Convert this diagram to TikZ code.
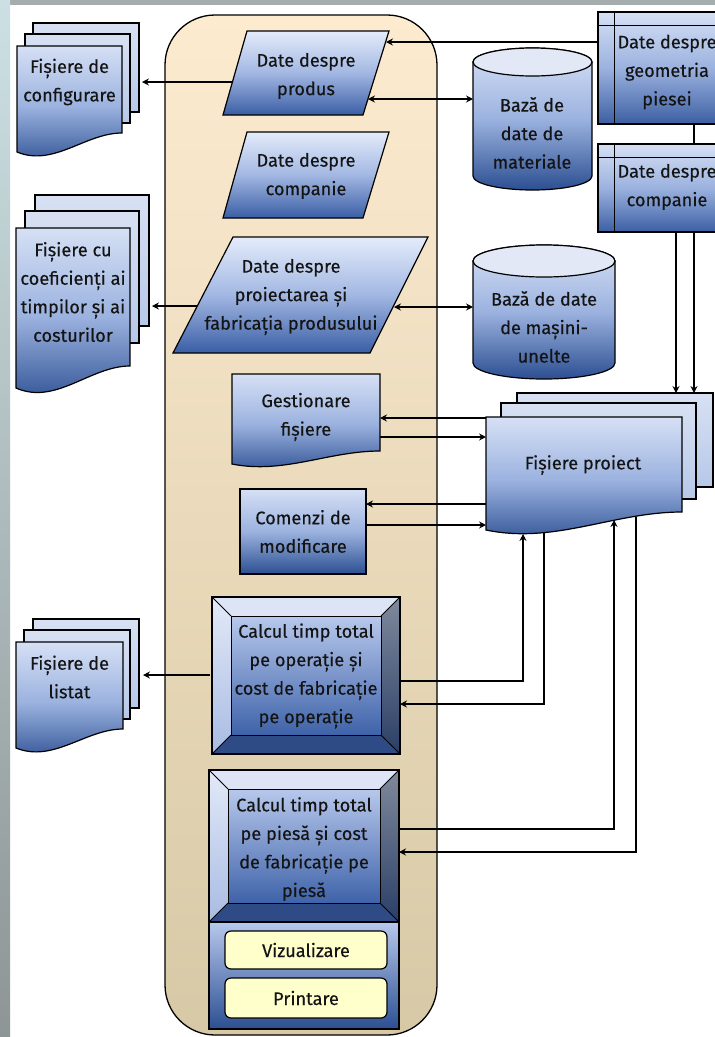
\documentclass[tikz,border=0pt]{standalone}
\usepackage{fontspec}
\setmainfont{Fira Sans}[FakeBold=0.35]
\usetikzlibrary{calc,arrows.meta}
\definecolor{txtc}{HTML}{141414}
\definecolor{dtop}{HTML}{D6E0F5}
\definecolor{dmid}{HTML}{9BB2DF}
\definecolor{dbot}{HTML}{2C4F92}
\definecolor{rbot}{HTML}{3C5FA3}
\definecolor{shtop}{HTML}{D8E1F3}
\definecolor{shbot}{HTML}{B6C8E8}
\definecolor{ptop}{HTML}{E4ECFB}
\definecolor{pmid}{HTML}{A2B7E2}
\definecolor{pbot}{HTML}{3A5EA5}
\definecolor{conttop}{HTML}{FDEBD0}
\definecolor{contbot}{HTML}{D7C9A6}
\definecolor{btn}{HTML}{FFFFCC}
\definecolor{bvl}{HTML}{E3EAF8}
\definecolor{bvlb}{HTML}{A8BBE3}
\definecolor{bvr}{HTML}{808A9C}
\definecolor{bvrb}{HTML}{2A3E66}
\definecolor{bvbot}{HTML}{2E4B85}
\definecolor{bvtop}{HTML}{DCE4F6}
\definecolor{intop}{HTML}{B7C8EC}
\definecolor{inbot}{HTML}{3F63A9}
\definecolor{stripg}{HTML}{A4ACAC}
\definecolor{stript}{HTML}{CCE0E3}
\definecolor{stripb}{HTML}{8E9595}
\definecolor{cyltop}{HTML}{E2E8F6}
\pgfdeclarelayer{bg}
\pgfdeclarelayer{conn}
\pgfsetlayers{bg,conn,main}
\newcommand{\lblfont}{\fontsize{18.2}{28.5}\selectfont}
% document shape: style, x0, y0, x1, yLeftBottom, yRightBottom
\newcommand{\docshape}[6]{%
  \path[#1] (#2,#3) -- (#4,#3) -- (#4,#6)
    .. controls ({#4-0.35*(#4-#2)},#6) and ({#2+0.35*(#4-#2)},{#5+0.8*(#5-#6)}) .. (#2,#5) -- cycle;}
% bevel box: x0,y0,x1,y1,b
\newcommand{\bevelbox}[5]{%
  \fill[bvtop] (#1,#2) -- (#3,#2) -- ({#3-#5},{#2+#5}) -- ({#1+#5},{#2+#5}) -- cycle;
  \path[top color=bvl,bottom color=bvlb] (#1,#2) -- ({#1+#5},{#2+#5}) -- ({#1+#5},{#4-#5}) -- (#1,#4) -- cycle;
  \path[top color=bvr,bottom color=bvrb] (#3,#2) -- (#3,#4) -- ({#3-#5},{#4-#5}) -- ({#3-#5},{#2+#5}) -- cycle;
  \fill[bvbot] (#1,#4) -- (#3,#4) -- ({#3-#5},{#4-#5}) -- ({#1+#5},{#4-#5}) -- cycle;
  \path[top color=intop,bottom color=inbot,draw=black,line width=0.9pt] ({#1+#5},{#2+#5}) rectangle ({#3-#5},{#4-#5});
  \draw[line width=0.9pt] (#1,#2) -- ({#1+#5},{#2+#5}) (#3,#2) -- ({#3-#5},{#2+#5}) (#1,#4) -- ({#1+#5},{#4-#5}) (#3,#4) -- ({#3-#5},{#4-#5});
  \draw[line width=1.2pt] (#1,#2) rectangle (#3,#4);}
% cylinder: x0,x1,ytopcentre,ybottomcentre,ry
\newcommand{\cylshape}[5]{%
  \path[draw=black,line width=1.2pt,top color=dtop,bottom color=dbot,middle color=dmid]
    (#1,#3) -- (#1,#4) arc[start angle=180,end angle=0,x radius={(#2-#1)/2},y radius=#5]
    -- (#2,#3) arc[start angle=0,end angle=-180,x radius={(#2-#1)/2},y radius=#5] -- cycle;
  \path[draw=black,line width=1.2pt,fill=cyltop] ({(#1+#2)/2},#3) ellipse[x radius={(#2-#1)/2},y radius=#5];}
\tikzset{
  lbl/.style={inner sep=0pt,outer sep=0pt,align=center,font=\lblfont,text=txtc},
  outl/.style={draw=black,line width=1.2pt},
  docfill/.style={outl,top color=dtop,bottom color=dbot,middle color=dmid},
  sheet/.style={outl,top color=shtop,bottom color=shbot},
  para/.style={outl,top color=ptop,bottom color=pbot,middle color=pmid},
  storebox/.style={outl,top color=dtop,bottom color=rbot,middle color=dmid},
  arr/.style={draw=black,line width=1.1pt,-{Stealth[length=7pt,width=7pt,inset=2.5pt]}},
  darr/.style={draw=black,line width=1.1pt,{Stealth[length=7pt,width=7pt,inset=2.5pt]}-{Stealth[length=7pt,width=7pt,inset=2.5pt]}},
  btnbox/.style={lbl,draw=black,line width=1.2pt,fill=btn,rounded corners=6pt},
}
\begin{document}
\begin{tikzpicture}[x=1pt,y=-1pt]
\useasboundingbox (0,0) rectangle (715,1037);
\clip (0,0) rectangle (715,1037);
\begin{pgfonlayer}{bg}
% background
\fill[white] (0,0) rectangle (715,1037);
\fill[stripg] (0,0) rectangle (715,5);
\path[top color=stript,bottom color=stripb] (0,0) rectangle (10,1037);
% container
\node[draw=black,line width=1.3pt,rounded corners=50pt,top color=conttop,bottom color=contbot,
  minimum width=272pt,minimum height=1020pt,inner sep=0pt] (cont) at (301,525) {};
\end{pgfonlayer}

% left stacks
\path[sheet] (33,23) rectangle (139,112);
\path[sheet] (25,34) rectangle (130,123);
\docshape{docfill}{17}{46}{122}{152}{133}
\path[sheet] (35,195) rectangle (149,326);
\path[sheet] (25,211) rectangle (139,343);
\docshape{docfill}{16}{228}{130}{388}{366}
\path[sheet] (33,619) rectangle (139,708);
\path[sheet] (24,630) rectangle (130,719);
\docshape{docfill}{16}{642}{123}{748}{729}

% parallelograms
\path[para] (247,31) -- (389,31) -- (363,115) -- (223,115) -- cycle;
\path[para] (247,132) -- (389,132) -- (363,218) -- (223,218) -- cycle;
\path[para] (233,237) -- (428,237) -- (370,353) -- (173,353) -- cycle;

% gestionare, comenzi
\docshape{docfill}{232}{374}{380}{464}{451}

% bevel boxes
\bevelbox{212}{597}{400}{754}{19}
\bevelbox{209}{770}{399}{922}{19}
\path[outl,top color=intop,bottom color=dbot] (209,922) rectangle (399,1029);

% cylinders
\cylshape{473}{592}{62}{176}{14}
\cylshape{473}{615}{261}{363}{16}

% storage boxes
\path[storebox] (598,12) rectangle (730,124);
\draw[line width=0.9pt] (614,12) -- (614,124) (598,25) -- (730,25);
\path[storebox] (598,144) rectangle (730,232);
\draw[line width=0.9pt] (614,144) -- (614,232) (598,157) -- (730,157);

% project files stack
\path[sheet] (517,393) rectangle (713,487);
\path[sheet] (501,403) rectangle (696,499);
\docshape{docfill}{486}{417}{682}{530}{512}

% texts (named nodes)
\node[lbl] (cfg) at (69.5,82) {Fișiere de\\configurare};
\node[lbl] (coef) at (73,292) {Fișiere cu\\coeficienți ai\\timpilor și ai\\costurilor};
\node[lbl] (lst) at (69.5,677) {Fișiere de\\listat};
\node[lbl] (p1) at (306,76) {Date despre\\produs};
\node[lbl] (p2) at (306,176) {Date despre\\companie};
\node[lbl] (p3) at (291,297) {Date despre\\proiectarea și\\fabricația produsului};
\node[lbl] (gest) at (306,417) {Gestionare\\fișiere};
\node[lbl,draw=black,line width=1.2pt,top color=dtop,bottom color=dbot,middle color=dmid,
  minimum width=126pt,minimum height=85pt] (com) at (303,531.5) {Comenzi de\\modificare};
\node[lbl] (calc1) at (306,676) {Calcul timp total\\pe operație și\\cost de fabricație\\pe operație};
\node[lbl] (calc2) at (304,849) {Calcul timp total\\pe piesă și cost\\de fabricație pe\\piesă};
\node[btnbox,minimum width=162pt,minimum height=38pt] (viz) at (306,950) {Vizualizare};
\node[btnbox,minimum width=162pt,minimum height=40pt] (prt) at (306,998) {Printare};
\node[lbl] (r1) at (667,72) {Date despre\\geometria\\piesei};
\node[lbl] (r2) at (667,187) {Date despre\\companie};
\node[lbl] (c1) at (532,133) {Bază de\\date de\\materiale};
\node[lbl] (c2) at (544,327) {Bază de date\\de mașini-\\unelte};
\node[lbl] (fp) at (583,465) {Fișiere proiect};

% connectors (on a layer below the shapes)
\begin{pgfonlayer}{conn}
\draw[arr] ($(r1)+(-69,-30)$) -- ($(p1)+(80,-34)$);
\draw[arr] ($(p1)+(-72,6)$) -- ($(cfg)+(72.5,0)$);
\draw[darr] ($(p1)+(62,23)$) -- ($(c1)+(-59,-34)$);
\draw[arr] ($(p3)+(-92,9)$) -- ($(coef)+(79,14)$);
\draw[darr] ($(p3)+(103,10)$) -- ($(c2)+(-71,-20)$);
\draw[arr] ($(r1)+(27,52)$) -- ($(fp)+(111,-72)$);
\draw[arr] ($(r2)+(9,45)$) -- ($(fp)+(93,-72)$);
\draw[arr] ($(fp)+(-97,-47)$) -- ($(gest)+(74,1)$);
\draw[arr] ($(gest)+(74,20)$) -- ($(fp)+(-97,-28)$);
\draw[arr] ($(fp)+(-97,39)$) -- ($(com)+(63,-27.5)$);
\draw[arr] ($(com)+(63,-6.5)$) -- ($(fp)+(-97,60)$);
\draw[arr] ($(calc1)+(94,5)$) -| ($(fp)+(-60,69)$);
\draw[arr] ($(fp)+(-39,67)$) |- ($(calc1)+(94,28)$);
\draw[arr] ($(calc2)+(95,-20)$) -| ($(fp)+(31,55)$);
\draw[arr] ($(fp)+(53,52)$) |- ($(calc2)+(95,3)$);
\draw[arr] ($(calc1)+(-96,-1)$) -- ($(lst)+(73.5,-2)$);
\end{pgfonlayer}
\end{tikzpicture}
\end{document}
